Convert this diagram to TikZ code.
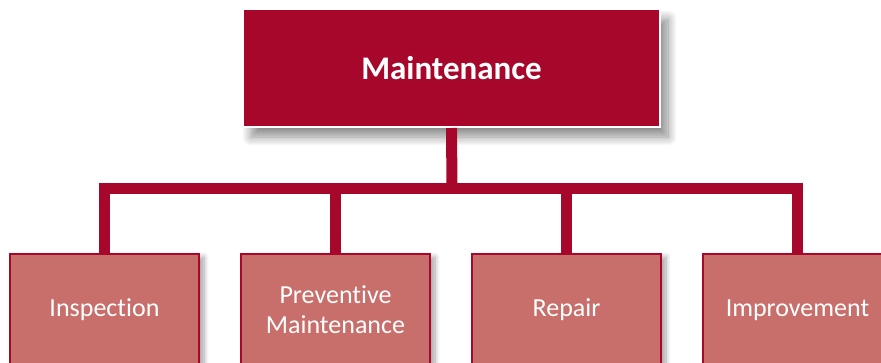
\documentclass[tikz,border=0pt]{standalone}
\usepackage{fontspec}
\setmainfont{Carlito}[Ligatures=NoCommon]
\usetikzlibrary{shadows.blur}
\definecolor{darkred}{HTML}{A6072A}
\definecolor{lightred}{HTML}{C86E6B}
\begin{document}
\begin{tikzpicture}[x=1pt,y=-1pt,
  topbox/.style={draw=white,line width=2pt,fill=darkred,minimum width=417pt,minimum height=118pt,
    text=white,font=\fontsize{33}{36}\selectfont\bfseries,
    blur shadow={shadow xshift=8pt,shadow yshift=-10pt,shadow blur steps=12,shadow blur radius=9pt,
      shadow blur extra rounding=0pt,shadow opacity=45}},
  subbox/.style={draw=darkred,line width=1.8pt,fill=lightred,minimum width=189pt,minimum height=112pt,
    text=white,font=\fontsize{26}{30}\selectfont,align=center,
    blur shadow={shadow xshift=5pt,shadow yshift=-3pt,shadow blur steps=8,shadow blur radius=5pt,
      shadow opacity=35}},
  conn/.style={draw=darkred,line width=11pt}]
\useasboundingbox (0,0) rectangle (881,362);
\node[topbox] (top) at (451.5,68) {Maintenance};
\coordinate (bar) at (452,188.5);
\node[subbox] (a) at (104.5,310) {Inspection};
\node[subbox] (b) at (335.5,310) {Preventive\\Maintenance};
\node[subbox] (c) at (566.5,310) {Repair};
\node[subbox] (d) at (797.5,310) {Improvement};
\path[conn] (top.south) -- (bar);
\path[conn,line cap=rect] (a.north |- bar) -- (d.north |- bar);
\path[conn] (a.north |- bar) -- (a.north);
\path[conn] (b.north |- bar) -- (b.north);
\path[conn] (c.north |- bar) -- (c.north);
\path[conn] (d.north |- bar) -- (d.north);
\end{tikzpicture}
\end{document}
